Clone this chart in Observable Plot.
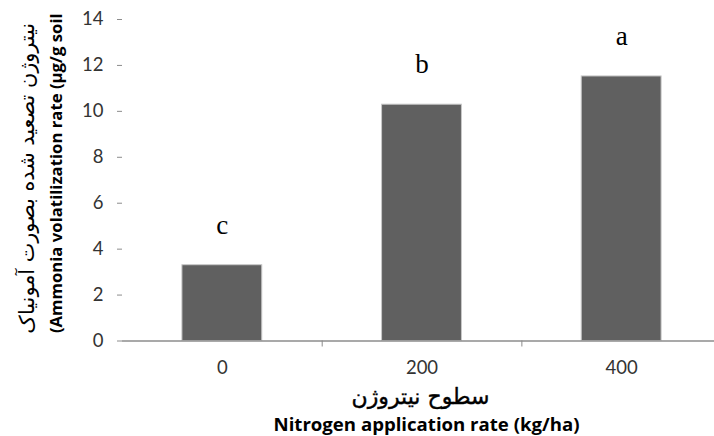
<!DOCTYPE html>
<html>
<head>
<meta charset="utf-8">
<script src="https://cdn.jsdelivr.net/npm/d3@7"></script>
<script src="https://cdn.jsdelivr.net/npm/@observablehq/plot@0.6"></script>
<style>
  html, body { margin: 0; padding: 0; background: #fff; }
  #chart svg { display: block; }
</style>
</head>
<body>
<div id="chart"></div>
<script>
const rates = ["0", "200", "400"];
const values = [3.3, 10.29, 11.52];
const letters = ["c", "b", "a"];
const yTicks = [0, 2, 4, 6, 8, 10, 12, 14];
const boundaryTicks = ["200", "400"];
const xTitleFa = "سطوح نیتروژن";
const xTitleEn = "Nitrogen application rate (kg/ha)";
const yTitleFa = "نیتروژن تصعید شده بصورت آمونیاک";
const yTitleEn = "(Ammonia volatilization rate (µg/g soil";

const data = rates.map((r, i) => ({rate: r, value: values[i], letter: letters[i]}));

const sans = "Lato, 'Open Sans', sans-serif";
const titleSans = "'Open Sans', Lato, sans-serif";
const arabic = "'DejaVu Sans', sans-serif";
const axisGray = "#8c8c8c";
const labelColor = "#333333";

const chart = Plot.plot({
  width: 714,
  height: 436,
  marginLeft: 122,
  marginTop: 19,
  marginBottom: 95.5,
  marginRight: 0,
  style: {background: "#fff", fontFamily: sans},
  x: {domain: rates, range: [122, 721], paddingInner: 0.6, paddingOuter: 0.3, round: false},
  y: {domain: [0, 14]},
  marks: [
    Plot.barY(data, {x: "rate", y: "value", fill: "#606060", stroke: "#c8c8c8", strokeWidth: 1}),
    Plot.ruleY([0], {stroke: axisGray, strokeWidth: 1.3}),
    Plot.ruleX(boundaryTicks, {x: d => d, y1: 0, y2: 0, insetBottom: -6, dx: -99.8, stroke: axisGray}),
    Plot.axisY({ticks: yTicks, tickSize: 5, tickPadding: 14, tickFormat: d => d, stroke: axisGray, strokeOpacity: 1,
      line: true, fill: labelColor, fontSize: 18.5, fontFamily: sans, label: null}),
    Plot.axisX({tickSize: 0, tickPadding: 20, fill: labelColor, fontSize: 18.5, fontFamily: sans, label: null}),
    Plot.text(data, {x: "rate", y: "value", text: "letter", dy: -40, fontFamily: "'Liberation Serif', serif", fontSize: 27, fill: "#000"}),
    Plot.text([xTitleFa], {text: d => d, frameAnchor: "bottom", textAnchor: "middle", lineAnchor: "middle", dx: 2, dy: 56, fontFamily: arabic, fontSize: 22, fill: "#000", stroke: "#000", strokeWidth: 0.4}),
    Plot.text([xTitleEn], {text: d => d, frameAnchor: "bottom", textAnchor: "middle", lineAnchor: "middle", dx: 8, dy: 84, fontFamily: titleSans, fontWeight: "bold", fontSize: 19, fill: "#000"}),
    Plot.text([yTitleFa], {text: d => d, frameAnchor: "left", textAnchor: "middle", lineAnchor: "middle", rotate: -90, dx: -95, dy: -2, fontFamily: arabic, fontSize: 17, fill: "#000"}),
    Plot.text([yTitleEn], {text: d => d, frameAnchor: "left", textAnchor: "middle", lineAnchor: "middle", rotate: -90, dx: -66, dy: -7, fontFamily: titleSans, fontWeight: "bold", fontSize: 17, fill: "#000"})
  ]
});
document.getElementById("chart").append(chart);

// fit title lengths to the reference's measured extents
const targetLengths = new Map([[xTitleEn, 306], [yTitleFa, 311], [yTitleEn, 320]]);
d3.select(chart).selectAll("text").each(function () {
  const t = this.textContent;
  if (!targetLengths.has(t)) return;
  const len = this.getComputedTextLength();
  if (len > 0) {
    const fs = parseFloat(getComputedStyle(this).fontSize);
    const nfs = (fs * targetLengths.get(t) / len).toFixed(2);
    this.setAttribute("font-size", nfs);
    this.style.fontSize = nfs + "px";
  }
});
</script>
</body>
</html>
